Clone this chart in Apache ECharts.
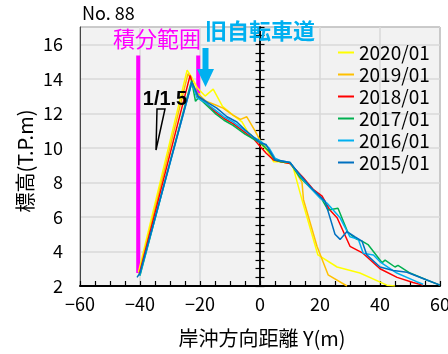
<!DOCTYPE html>
<html><head><meta charset="utf-8">
<script src="https://cdn.jsdelivr.net/npm/echarts@6/dist/echarts.min.js"></script>
<style>html,body{margin:0;padding:0;background:#fff}#c{width:448px;height:354px}</style>
</head><body><div id="c"></div>
<script>
// ---- data ----
const seriesNames = ['2020/01', '2019/01', '2018/01', '2017/01', '2016/01', '2015/01'];
const seriesColors = ['#ffff00', '#ffc000', '#ff0000', '#00b050', '#00b0f0', '#0070c0'];

const p2020 = [[-40.5,2.8],[-24.3,14.5],[-22.8,14.1],[-21,13.5],[-18.3,13.0],[-15.6,13.4],[-12.5,12.4],[-9,11.9],[-6,11.5],[-4,10.9],[-2,10.6],[0,10.3],[3,9.7],[4.5,9.2],[7,9.2],[10,9.1],[11,8.9],[14.3,6.8],[19.3,3.8],[25.7,3.1],[33.3,2.75],[42.3,2.05],[45,2.0]];
const p2019 = [[-40.3,2.7],[-24,14.3],[-22.5,13.8],[-21,13.2],[-18,12.7],[-15,12.5],[-12.3,12.3],[-9,11.9],[-6.5,11.65],[-4.4,11.8],[-1.7,11.0],[0,10.45],[2,10.0],[4,9.4],[7,9.2],[10,9.1],[11,8.9],[14,8.0],[14.5,7.0],[19,4.3],[22.7,2.65],[29,2.0]];
const p2018 = [[-40.2,2.7],[-23.3,14.2],[-22.3,13.6],[-21,13.0],[-18,12.6],[-15,12.1],[-12,11.7],[-9,11.4],[-5,10.9],[-2,10.5],[0,10.1],[2,9.7],[4.5,9.3],[7,9.2],[10,9.1],[11,8.9],[14.3,8.3],[17.7,7.6],[20.7,7.2],[23.3,6.4],[25.7,5.95],[30,4.3],[34.3,3.9],[40,3.0],[45.7,2.5],[51,2.2],[54.3,2.05]];
const p2017 = [[-40,2.6],[-22.8,13.9],[-21.5,12.7],[-20.5,12.9],[-18,12.5],[-15,12.0],[-12,11.6],[-9,11.3],[-5,10.8],[-2,10.5],[0,10.3],[3,9.8],[5,9.3],[7,9.2],[10,9.15],[13.3,8.3],[16.7,7.7],[20.7,7.0],[22.7,6.4],[26,6.5],[29.3,5.1],[32.3,4.7],[34,4.6],[36,4.4],[40.7,3.35],[41.7,3.5],[45,3.1],[46,3.2],[50,2.75],[55.6,2.35],[60,2.05]];
const p2016 = [[-40.1,2.6],[-22.7,13.8],[-21,12.9],[-18,12.6],[-15,12.2],[-12,11.8],[-9,11.5],[-5,11.0],[-2,10.6],[0,10.4],[3,10.0],[5,9.4],[7,9.25],[10,9.15],[13.3,8.4],[16.7,7.7],[20,7.1],[22.3,6.8],[24.4,6.4],[26.7,5.95],[30,4.85],[32.8,4.7],[34.4,3.9],[37.8,3.8],[40,3.4],[45.6,2.75],[52.2,2.25],[54.4,2.1]];
const p2015 = [[-41,2.5],[-40,2.75],[-22.7,13.8],[-20.6,13.0],[-17.3,12.6],[-14.4,12.3],[-11,11.8],[-7.7,11.5],[-5,11.05],[-2,10.6],[0,10.3],[2,10.2],[4,9.6],[5,9.3],[7,9.25],[10,9.15],[13.3,8.45],[17,7.7],[21.7,6.9],[25,5.0],[26.7,4.7],[29,5.15],[31.7,4.85],[34,4.6],[35.6,3.8],[40,3.1],[44.4,2.9],[49,2.8],[55.6,2.35],[60,2.05]];
const profiles = [p2020, p2019, p2018, p2017, p2016, p2015];

const rangeLeft = [[-40.6,15.35],[-40.6,2.75]];
const rangeRight = [[-20.6,15.35],[-20.6,13.15]];

const xMin = -60, xMax = 60, xStep = 20;
const yMin = 2, yMax = 17, yStep = 2;

const F = "'Noto Sans CJK JP','Noto Sans',sans-serif";

const chart = echarts.init(document.getElementById('c'), null, {renderer: 'canvas'});

const series = [
  {type: 'line', data: rangeLeft, symbol: 'none', silent: true, z: 1,
   lineStyle: {color: '#ff00ff', width: 4}},
  {type: 'line', data: rangeRight, symbol: 'none', silent: true, z: 1,
   lineStyle: {color: '#ff00ff', width: 4}}
];
profiles.forEach((d, i) => series.push({
  name: seriesNames[i], type: 'line', data: d, symbol: 'none', z: 3,
  color: seriesColors[i], lineStyle: {color: seriesColors[i], width: 1.5}
}));

const centerAxis = (pos) => ({
  type: 'value', min: yMin, max: yMax, interval: 0.5, position: pos,
  axisLine: {show: true, onZero: true, onZeroAxisIndex: 0, lineStyle: {color: '#000', width: 1.5}},
  axisTick: {show: true, inside: false, length: 4.5, lineStyle: {color: '#000', width: 1.2}},
  axisLabel: {show: false}, splitLine: {show: false}
});

chart.setOption({
  animation: false,
  backgroundColor: '#fff',
  grid: {left: 80, right: 8, top: 27, bottom: 68, show: true, backgroundColor: '#f2f2f2',
         borderColor: '#444', borderWidth: 1, outerBoundsMode: 'none'},
  legend: {
    data: seriesNames, orient: 'vertical', left: 333, top: 38,
    icon: 'rect', itemWidth: 16, itemHeight: 2, itemGap: 3,
    textStyle: {fontFamily: F, fontSize: 19, color: '#000', lineHeight: 19}
  },
  xAxis: {
    type: 'value', min: xMin, max: xMax, interval: xStep,
    axisLine: {onZero: false, lineStyle: {color: '#000', width: 2}},
    axisTick: {show: true, inside: true, length: 5, lineStyle: {color: '#000', width: 1.2}},
    minorTick: {show: true, splitNumber: 4, length: 5, lineStyle: {color: '#000', width: 1.2}},
    splitLine: {show: true, lineStyle: {color: '#d9d9d9', width: 1.5}},
    axisLabel: {fontFamily: F, fontSize: 18, color: '#000', margin: 9,
      formatter: v => String(v).replace('-', '\u2212')}
  },
  yAxis: [
    {type: 'value', min: yMin, max: yMax, interval: yStep, position: 'left',
     axisLine: {show: true, onZero: false, lineStyle: {color: '#444', width: 1}},
     axisTick: {show: false},
     splitLine: {show: true, lineStyle: {color: '#d9d9d9', width: 1.5}},
     axisLabel: {fontFamily: F, fontSize: 18, color: '#000', margin: 17, showMaxLabel: false}},
    centerAxis('left'),
    centerAxis('right')
  ],
  series: series,
  graphic: [
    {type: 'text', left: 82, top: 4, z: 100, style: {text: 'No. 88', font: '18px ' + F, fill: '#000'}},
    {type: 'text', x: 157, y: 39, z: 100, style: {text: '積分範囲', font: '22px ' + F, fill: '#ff00ff', align: 'center', verticalAlign: 'middle'}},
    {type: 'text', x: 260, y: 31, z: 100, style: {text: '旧自転車道', font: 'bold 22px ' + F, fill: '#00b0f0', align: 'center', verticalAlign: 'middle'}},
    {type: 'polygon', z: 100, shape: {points: [[202.5,48],[208.5,48],[208.5,69],[214,69],[205.5,87],[197,69],[202.5,69]]}, style: {fill: '#00b0f0'}},
    {type: 'text', x: 165, y: 99, z: 100, style: {text: '1/1.5', font: "bold 20px 'Liberation Sans',Arial,sans-serif", fill: '#000', align: 'center', verticalAlign: 'middle'}},
    {type: 'polygon', z: 100, shape: {points: [[157,109],[165,109],[156,150]]}, style: {fill: 'none', stroke: '#000', lineWidth: 1.5}},
    {type: 'text', x: 262, y: 338, z: 100, style: {text: '岸沖方向距離 Y(m)', font: '20px ' + F, fill: '#000', align: 'center', verticalAlign: 'middle'}},
    {type: 'text', x: 25, y: 161, rotation: Math.PI / 2, z: 100, style: {text: '標高(T.P.m)', font: '20px ' + F, fill: '#000', align: 'center', verticalAlign: 'middle'}}
  ]
});
</script></body></html>
